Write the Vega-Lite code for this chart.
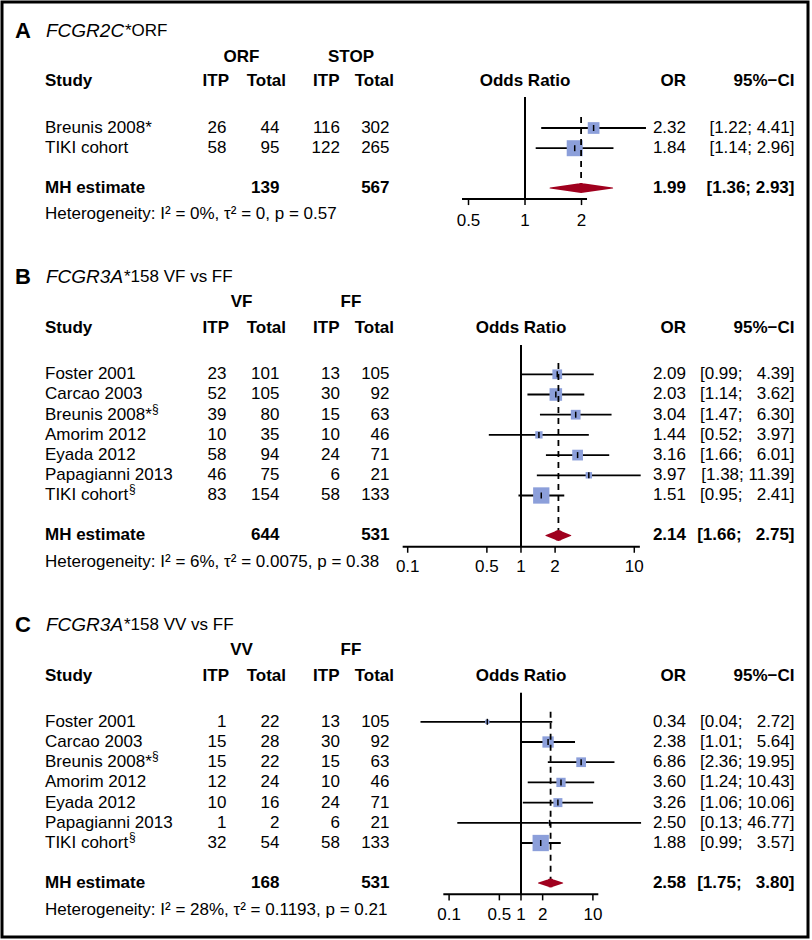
{
"$schema":"https://vega.github.io/schema/vega-lite/v6.json",
"width":806,"height":935,
"padding":{"left":2,"top":2,"right":4,"bottom":3},
"background":"white",
"config":{"view":{"stroke":"black","strokeWidth":3},"text":{"font":"Liberation Sans","fontSize":17,"color":"black"}},
"datasets":{
"panels":[
{"panel":"A","letter":"A","gene":"FCGR2C","suffix":"*ORF","g1":"ORF","g2":"STOP"},
{"panel":"B","letter":"B","gene":"FCGR3A","suffix":"*158 VF vs FF","g1":"VF","g2":"FF"},
{"panel":"C","letter":"C","gene":"FCGR3A","suffix":"*158 VV vs FF","g1":"VV","g2":"FF"}],
"studies":[
{"panel":"A","row":1,"study":"Breunis 2008*","itp1":26,"tot1":44,"itp2":116,"tot2":302,"or":2.32,"lo":1.22,"hi":4.41,"ci":"[1.22; 4.41]","weight":34.9},
{"panel":"A","row":2,"study":"TIKI cohort","itp1":58,"tot1":95,"itp2":122,"tot2":265,"or":1.84,"lo":1.14,"hi":2.96,"ci":"[1.14; 2.96]","weight":65.1},
{"panel":"B","row":1,"study":"Foster 2001","itp1":23,"tot1":101,"itp2":13,"tot2":105,"or":2.09,"lo":0.99,"hi":4.39,"ci":"[0.99; \u20074.39]","weight":11.5},
{"panel":"B","row":2,"study":"Carcao 2003","itp1":52,"tot1":105,"itp2":30,"tot2":92,"or":2.03,"lo":1.14,"hi":3.62,"ci":"[1.14; \u20073.62]","weight":19.2},
{"panel":"B","row":3,"study":"Breunis 2008*","itp1":39,"tot1":80,"itp2":15,"tot2":63,"or":3.04,"lo":1.47,"hi":6.30,"ci":"[1.47; \u20076.30]","weight":11.5},
{"panel":"B","row":4,"study":"Amorim 2012","itp1":10,"tot1":35,"itp2":10,"tot2":46,"or":1.44,"lo":0.52,"hi":3.97,"ci":"[0.52; \u20073.97]","weight":6.5},
{"panel":"B","row":5,"study":"Eyada 2012","itp1":58,"tot1":94,"itp2":24,"tot2":71,"or":3.16,"lo":1.66,"hi":6.01,"ci":"[1.66; \u20076.01]","weight":14},
{"panel":"B","row":6,"study":"Papagianni 2013","itp1":46,"tot1":75,"itp2":6,"tot2":21,"or":3.97,"lo":1.38,"hi":11.39,"ci":"[1.38; 11.39]","weight":5},
{"panel":"B","row":7,"study":"TIKI cohort","itp1":83,"tot1":154,"itp2":58,"tot2":133,"or":1.51,"lo":0.95,"hi":2.41,"ci":"[0.95; \u20072.41]","weight":32.3},
{"panel":"C","row":1,"study":"Foster 2001","itp1":1,"tot1":22,"itp2":13,"tot2":105,"or":0.34,"lo":0.04,"hi":2.72,"ci":"[0.04; \u20072.72]","weight":2.7},
{"panel":"C","row":2,"study":"Carcao 2003","itp1":15,"tot1":28,"itp2":30,"tot2":92,"or":2.38,"lo":1.01,"hi":5.64,"ci":"[1.01; \u20075.64]","weight":18.9},
{"panel":"C","row":3,"study":"Breunis 2008*","itp1":15,"tot1":22,"itp2":15,"tot2":63,"or":6.86,"lo":2.36,"hi":19.95,"ci":"[2.36; 19.95]","weight":13.9},
{"panel":"C","row":4,"study":"Amorim 2012","itp1":12,"tot1":24,"itp2":10,"tot2":46,"or":3.60,"lo":1.24,"hi":10.43,"ci":"[1.24; 10.43]","weight":12.7},
{"panel":"C","row":5,"study":"Eyada 2012","itp1":10,"tot1":16,"itp2":24,"tot2":71,"or":3.26,"lo":1.06,"hi":10.06,"ci":"[1.06; 10.06]","weight":12.0},
{"panel":"C","row":6,"study":"Papagianni 2013","itp1":1,"tot1":2,"itp2":6,"tot2":21,"or":2.50,"lo":0.13,"hi":46.77,"ci":"[0.13; 46.77]","weight":0.6},
{"panel":"C","row":7,"study":"TIKI cohort","itp1":32,"tot1":54,"itp2":58,"tot2":133,"or":1.88,"lo":0.99,"hi":3.57,"ci":"[0.99; \u20073.57]","weight":39.3}],
"summary":[
{"panel":"A","tot1":139,"tot2":567,"or":1.99,"lo":1.36,"hi":2.93,"ci":"[1.36; 2.93]","het":"Heterogeneity: I² = 0%, τ² = 0, p = 0.57"},
{"panel":"B","tot1":644,"tot2":531,"or":2.14,"lo":1.66,"hi":2.75,"ci":"[1.66; \u20072.75]","het":"Heterogeneity: I² = 6%, τ² = 0.0075, p = 0.38"},
{"panel":"C","tot1":168,"tot2":531,"or":2.58,"lo":1.75,"hi":3.80,"ci":"[1.75; \u20073.80]","het":"Heterogeneity: I² = 28%, τ² = 0.1193, p = 0.21"}],
"ticks":[
{"panel":"A","v":0.5,"label":"0.5"},{"panel":"A","v":1,"label":"1"},{"panel":"A","v":2,"label":"2"},
{"panel":"B","v":0.1,"label":"0.1"},{"panel":"B","v":0.5,"label":"0.5"},{"panel":"B","v":1,"label":"1"},{"panel":"B","v":2,"label":"2"},{"panel":"B","v":10,"label":"10"},
{"panel":"C","v":0.1,"label":"0.1"},{"panel":"C","v":0.5,"label":"0.5"},{"panel":"C","v":1,"label":"1"},{"panel":"C","v":2,"label":"2"},{"panel":"C","v":10,"label":"10"}]
},
"resolve":{"scale":{"x":"independent","y":"independent","size":"independent"}},
"layer":[
{"resolve":{"scale":{"x":"independent","size":"independent"}},"layer":[
{"data":{"name":"panels"},"transform":[{"filter":"datum.panel==='A'"}],"mark":{"type":"text","align":"left","baseline":"middle","fontWeight":"bold","fontSize":22},"encoding":{"x":{"datum":1.613,"type":"quantitative","scale":{"domain":[0,100],"nice":false,"zero":false},"axis":null},"y":{"datum":-3.8,"type":"quantitative","scale":{"domain":[-5.238,41.049],"reverse":true,"nice":false,"zero":false},"axis":null},"text":{"field":"letter"}}},
{"data":{"name":"panels"},"transform":[{"filter":"datum.panel==='A'"}],"mark":{"type":"text","align":"left","baseline":"middle","fontStyle":"italic","fontSize":19},"encoding":{"x":{"datum":5.459,"type":"quantitative","scale":{"domain":[0,100],"nice":false,"zero":false},"axis":null},"y":{"datum":-3.8,"type":"quantitative","scale":{"domain":[-5.238,41.049],"reverse":true,"nice":false,"zero":false},"axis":null},"text":{"field":"gene"}}},
{"data":{"name":"panels"},"transform":[{"filter":"datum.panel==='A'"}],"mark":{"type":"text","align":"left","baseline":"middle","dx":79,"fontSize":17},"encoding":{"x":{"datum":5.459,"type":"quantitative","scale":{"domain":[0,100],"nice":false,"zero":false},"axis":null},"y":{"datum":-3.8,"type":"quantitative","scale":{"domain":[-5.238,41.049],"reverse":true,"nice":false,"zero":false},"axis":null},"text":{"field":"suffix"}}},
{"data":{"name":"panels"},"transform":[{"filter":"datum.panel==='A'"}],"mark":{"type":"text","align":"center","baseline":"middle","fontWeight":"bold"},"encoding":{"x":{"datum":29.715,"type":"quantitative","scale":{"domain":[0,100],"nice":false,"zero":false},"axis":null},"y":{"datum":-2.515,"type":"quantitative","scale":{"domain":[-5.238,41.049],"reverse":true,"nice":false,"zero":false},"axis":null},"text":{"field":"g1"}}},
{"data":{"name":"panels"},"transform":[{"filter":"datum.panel==='A'"}],"mark":{"type":"text","align":"center","baseline":"middle","fontWeight":"bold"},"encoding":{"x":{"datum":43.3,"type":"quantitative","scale":{"domain":[0,100],"nice":false,"zero":false},"axis":null},"y":{"datum":-2.515,"type":"quantitative","scale":{"domain":[-5.238,41.049],"reverse":true,"nice":false,"zero":false},"axis":null},"text":{"field":"g2"}}},
{"data":{"name":"panels"},"transform":[{"filter":"datum.panel==='A'"}],"mark":{"type":"text","align":"left","baseline":"middle","fontWeight":"bold","text":"Study"},"encoding":{"x":{"datum":5.335,"type":"quantitative","scale":{"domain":[0,100],"nice":false,"zero":false},"axis":null},"y":{"datum":-1.327,"type":"quantitative","scale":{"domain":[-5.238,41.049],"reverse":true,"nice":false,"zero":false},"axis":null}}},
{"data":{"name":"panels"},"transform":[{"filter":"datum.panel==='A'"}],"mark":{"type":"text","align":"right","baseline":"middle","fontWeight":"bold","text":"ITP"},"encoding":{"x":{"datum":28.164,"type":"quantitative","scale":{"domain":[0,100],"nice":false,"zero":false},"axis":null},"y":{"datum":-1.327,"type":"quantitative","scale":{"domain":[-5.238,41.049],"reverse":true,"nice":false,"zero":false},"axis":null}}},
{"data":{"name":"panels"},"transform":[{"filter":"datum.panel==='A'"}],"mark":{"type":"text","align":"right","baseline":"middle","fontWeight":"bold","text":"Total"},"encoding":{"x":{"datum":35.236,"type":"quantitative","scale":{"domain":[0,100],"nice":false,"zero":false},"axis":null},"y":{"datum":-1.327,"type":"quantitative","scale":{"domain":[-5.238,41.049],"reverse":true,"nice":false,"zero":false},"axis":null}}},
{"data":{"name":"panels"},"transform":[{"filter":"datum.panel==='A'"}],"mark":{"type":"text","align":"right","baseline":"middle","fontWeight":"bold","text":"ITP"},"encoding":{"x":{"datum":41.873,"type":"quantitative","scale":{"domain":[0,100],"nice":false,"zero":false},"axis":null},"y":{"datum":-1.327,"type":"quantitative","scale":{"domain":[-5.238,41.049],"reverse":true,"nice":false,"zero":false},"axis":null}}},
{"data":{"name":"panels"},"transform":[{"filter":"datum.panel==='A'"}],"mark":{"type":"text","align":"right","baseline":"middle","fontWeight":"bold","text":"Total"},"encoding":{"x":{"datum":48.635,"type":"quantitative","scale":{"domain":[0,100],"nice":false,"zero":false},"axis":null},"y":{"datum":-1.327,"type":"quantitative","scale":{"domain":[-5.238,41.049],"reverse":true,"nice":false,"zero":false},"axis":null}}},
{"data":{"name":"panels"},"transform":[{"filter":"datum.panel==='A'"}],"mark":{"type":"text","align":"center","baseline":"middle","fontWeight":"bold","text":"Odds Ratio"},"encoding":{"x":{"datum":1,"type":"quantitative","scale":{"type":"log","domain":[0.001635,32.19],"nice":false},"axis":null},"y":{"datum":-1.327,"type":"quantitative","scale":{"domain":[-5.238,41.049],"reverse":true,"nice":false,"zero":false},"axis":null}}},
{"data":{"name":"panels"},"transform":[{"filter":"datum.panel==='A'"}],"mark":{"type":"text","align":"right","baseline":"middle","fontWeight":"bold","text":"OR"},"encoding":{"x":{"datum":84.864,"type":"quantitative","scale":{"domain":[0,100],"nice":false,"zero":false},"axis":null},"y":{"datum":-1.327,"type":"quantitative","scale":{"domain":[-5.238,41.049],"reverse":true,"nice":false,"zero":false},"axis":null}}},
{"data":{"name":"panels"},"transform":[{"filter":"datum.panel==='A'"}],"mark":{"type":"text","align":"right","baseline":"middle","fontWeight":"bold","text":"95%−CI"},"encoding":{"x":{"datum":98.325,"type":"quantitative","scale":{"domain":[0,100],"nice":false,"zero":false},"axis":null},"y":{"datum":-1.327,"type":"quantitative","scale":{"domain":[-5.238,41.049],"reverse":true,"nice":false,"zero":false},"axis":null}}},
{"data":{"name":"studies"},"transform":[{"filter":"datum.panel==='A'"}],"mark":{"type":"text","align":"left","baseline":"middle"},"encoding":{"x":{"datum":5.335,"type":"quantitative","scale":{"domain":[0,100],"nice":false,"zero":false},"axis":null},"y":{"field":"row","type":"quantitative","scale":{"domain":[-5.238,41.049],"reverse":true,"nice":false,"zero":false},"axis":null},"text":{"field":"study"}}},
{"data":{"name":"studies"},"transform":[{"filter":"datum.panel==='A'"}],"mark":{"type":"text","align":"right","baseline":"middle"},"encoding":{"x":{"datum":27.854,"type":"quantitative","scale":{"domain":[0,100],"nice":false,"zero":false},"axis":null},"y":{"field":"row","type":"quantitative","scale":{"domain":[-5.238,41.049],"reverse":true,"nice":false,"zero":false},"axis":null},"text":{"field":"itp1"}}},
{"data":{"name":"studies"},"transform":[{"filter":"datum.panel==='A'"}],"mark":{"type":"text","align":"right","baseline":"middle"},"encoding":{"x":{"datum":34.429,"type":"quantitative","scale":{"domain":[0,100],"nice":false,"zero":false},"axis":null},"y":{"field":"row","type":"quantitative","scale":{"domain":[-5.238,41.049],"reverse":true,"nice":false,"zero":false},"axis":null},"text":{"field":"tot1"}}},
{"data":{"name":"studies"},"transform":[{"filter":"datum.panel==='A'"}],"mark":{"type":"text","align":"right","baseline":"middle"},"encoding":{"x":{"datum":41.935,"type":"quantitative","scale":{"domain":[0,100],"nice":false,"zero":false},"axis":null},"y":{"field":"row","type":"quantitative","scale":{"domain":[-5.238,41.049],"reverse":true,"nice":false,"zero":false},"axis":null},"text":{"field":"itp2"}}},
{"data":{"name":"studies"},"transform":[{"filter":"datum.panel==='A'"}],"mark":{"type":"text","align":"right","baseline":"middle"},"encoding":{"x":{"datum":48.077,"type":"quantitative","scale":{"domain":[0,100],"nice":false,"zero":false},"axis":null},"y":{"field":"row","type":"quantitative","scale":{"domain":[-5.238,41.049],"reverse":true,"nice":false,"zero":false},"axis":null},"text":{"field":"tot2"}}},
{"data":{"name":"studies"},"transform":[{"filter":"datum.panel==='A'"}],"mark":{"type":"text","align":"right","baseline":"middle"},"encoding":{"x":{"datum":84.864,"type":"quantitative","scale":{"domain":[0,100],"nice":false,"zero":false},"axis":null},"y":{"field":"row","type":"quantitative","scale":{"domain":[-5.238,41.049],"reverse":true,"nice":false,"zero":false},"axis":null},"text":{"field":"or","format":".2f"}}},
{"data":{"name":"studies"},"transform":[{"filter":"datum.panel==='A'"}],"mark":{"type":"text","align":"right","baseline":"middle"},"encoding":{"x":{"datum":98.325,"type":"quantitative","scale":{"domain":[0,100],"nice":false,"zero":false},"axis":null},"y":{"field":"row","type":"quantitative","scale":{"domain":[-5.238,41.049],"reverse":true,"nice":false,"zero":false},"axis":null},"text":{"field":"ci"}}},
{"data":{"name":"summary"},"transform":[{"filter":"datum.panel==='A'"}],"mark":{"type":"text","align":"left","baseline":"middle","fontWeight":"bold","text":"MH estimate"},"encoding":{"x":{"datum":5.335,"type":"quantitative","scale":{"domain":[0,100],"nice":false,"zero":false},"axis":null},"y":{"datum":3.97,"type":"quantitative","scale":{"domain":[-5.238,41.049],"reverse":true,"nice":false,"zero":false},"axis":null}}},
{"data":{"name":"summary"},"transform":[{"filter":"datum.panel==='A'"}],"mark":{"type":"text","align":"right","baseline":"middle","fontWeight":"bold"},"encoding":{"x":{"datum":34.429,"type":"quantitative","scale":{"domain":[0,100],"nice":false,"zero":false},"axis":null},"y":{"datum":3.97,"type":"quantitative","scale":{"domain":[-5.238,41.049],"reverse":true,"nice":false,"zero":false},"axis":null},"text":{"field":"tot1"}}},
{"data":{"name":"summary"},"transform":[{"filter":"datum.panel==='A'"}],"mark":{"type":"text","align":"right","baseline":"middle","fontWeight":"bold"},"encoding":{"x":{"datum":48.077,"type":"quantitative","scale":{"domain":[0,100],"nice":false,"zero":false},"axis":null},"y":{"datum":3.97,"type":"quantitative","scale":{"domain":[-5.238,41.049],"reverse":true,"nice":false,"zero":false},"axis":null},"text":{"field":"tot2"}}},
{"data":{"name":"summary"},"transform":[{"filter":"datum.panel==='A'"}],"mark":{"type":"text","align":"right","baseline":"middle","fontWeight":"bold"},"encoding":{"x":{"datum":84.864,"type":"quantitative","scale":{"domain":[0,100],"nice":false,"zero":false},"axis":null},"y":{"datum":3.97,"type":"quantitative","scale":{"domain":[-5.238,41.049],"reverse":true,"nice":false,"zero":false},"axis":null},"text":{"field":"or","format":".2f"}}},
{"data":{"name":"summary"},"transform":[{"filter":"datum.panel==='A'"}],"mark":{"type":"text","align":"right","baseline":"middle","fontWeight":"bold"},"encoding":{"x":{"datum":98.325,"type":"quantitative","scale":{"domain":[0,100],"nice":false,"zero":false},"axis":null},"y":{"datum":3.97,"type":"quantitative","scale":{"domain":[-5.238,41.049],"reverse":true,"nice":false,"zero":false},"axis":null},"text":{"field":"ci"}}},
{"data":{"name":"summary"},"transform":[{"filter":"datum.panel==='A'"}],"mark":{"type":"text","align":"left","baseline":"middle"},"encoding":{"x":{"datum":5.335,"type":"quantitative","scale":{"domain":[0,100],"nice":false,"zero":false},"axis":null},"y":{"datum":5.257,"type":"quantitative","scale":{"domain":[-5.238,41.049],"reverse":true,"nice":false,"zero":false},"axis":null},"text":{"field":"het"}}},
{"data":{"name":"panels"},"transform":[{"filter":"datum.panel==='A'"}],"mark":{"type":"rule","color":"black","strokeWidth":2},"encoding":{"x":{"datum":1,"type":"quantitative","scale":{"type":"log","domain":[0.001635,32.19],"nice":false},"axis":null},"y":{"datum":-0.535,"type":"quantitative","scale":{"domain":[-5.238,41.049],"reverse":true,"nice":false,"zero":false},"axis":null},"y2":{"datum":4.515}}},
{"data":{"name":"studies"},"transform":[{"filter":"datum.panel==='A'"}],"mark":{"type":"rule","color":"black","strokeWidth":1.8},"encoding":{"x":{"field":"lo","type":"quantitative","scale":{"type":"log","domain":[0.001635,32.19],"nice":false},"axis":null},"x2":{"field":"hi"},"y":{"field":"row","type":"quantitative","scale":{"domain":[-5.238,41.049],"reverse":true,"nice":false,"zero":false},"axis":null}}},
{"data":{"name":"studies"},"transform":[{"filter":"datum.panel==='A'"}],"mark":{"type":"point","shape":"square","filled":true,"color":"#8C9FDA","opacity":1,"strokeWidth":0},"encoding":{"x":{"field":"or","type":"quantitative","scale":{"type":"log","domain":[0.001635,32.19],"nice":false},"axis":null},"y":{"field":"row","type":"quantitative","scale":{"domain":[-5.238,41.049],"reverse":true,"nice":false,"zero":false},"axis":null},"size":{"field":"weight","type":"quantitative","scale":{"domain":[0,100],"range":[0,393],"zero":true},"legend":null}}},
{"data":{"name":"summary"},"transform":[{"filter":"datum.panel==='A'"}],"mark":{"type":"rule","color":"black","strokeWidth":1.8,"strokeDash":[6,5]},"encoding":{"x":{"field":"or","type":"quantitative","scale":{"type":"log","domain":[0.001635,32.19],"nice":false},"axis":null},"y":{"datum":0.455,"type":"quantitative","scale":{"domain":[-5.238,41.049],"reverse":true,"nice":false,"zero":false},"axis":null},"y2":{"datum":3.97}}},
{"data":{"name":"studies"},"transform":[{"filter":"datum.panel==='A'"}],"mark":{"type":"tick","orient":"vertical","color":"black","size":6,"thickness":1.5,"opacity":1},"encoding":{"x":{"field":"or","type":"quantitative","scale":{"type":"log","domain":[0.001635,32.19],"nice":false},"axis":null},"y":{"field":"row","type":"quantitative","scale":{"domain":[-5.238,41.049],"reverse":true,"nice":false,"zero":false},"axis":null}}},
{"data":{"name":"summary"},"transform":[{"filter":"datum.panel==='A'"},{"fold":["lo","or","hi"],"as":["k","v"]}],"mark":{"type":"trail","color":"#A0001E","opacity":1},"encoding":{"x":{"field":"v","type":"quantitative","scale":{"type":"log","domain":[0.001635,32.19],"nice":false},"axis":null},"y":{"datum":3.97,"type":"quantitative","scale":{"domain":[-5.238,41.049],"reverse":true,"nice":false,"zero":false},"axis":null},"size":{"field":"k","type":"ordinal","scale":{"type":"ordinal","domain":["lo","or","hi"],"range":[0,10,0]},"legend":null}}},
{"data":{"name":"panels"},"transform":[{"filter":"datum.panel==='A'"}],"mark":{"type":"rule","color":"black","strokeWidth":2},"encoding":{"x":{"datum":0.4617,"type":"quantitative","scale":{"type":"log","domain":[0.001635,32.19],"nice":false},"axis":null},"x2":{"datum":2.14},"y":{"datum":4.515,"type":"quantitative","scale":{"domain":[-5.238,41.049],"reverse":true,"nice":false,"zero":false},"axis":null}}},
{"data":{"name":"ticks"},"transform":[{"filter":"datum.panel==='A'"}],"mark":{"type":"rule","color":"black","strokeWidth":1.5},"encoding":{"x":{"field":"v","type":"quantitative","scale":{"type":"log","domain":[0.001635,32.19],"nice":false},"axis":null},"y":{"datum":4.515,"type":"quantitative","scale":{"domain":[-5.238,41.049],"reverse":true,"nice":false,"zero":false},"axis":null},"y2":{"datum":4.815}}},
{"data":{"name":"ticks"},"transform":[{"filter":"datum.panel==='A'"}],"mark":{"type":"text","align":"center","baseline":"middle"},"encoding":{"x":{"field":"v","type":"quantitative","scale":{"type":"log","domain":[0.001635,32.19],"nice":false},"axis":null},"y":{"datum":5.604,"type":"quantitative","scale":{"domain":[-5.238,41.049],"reverse":true,"nice":false,"zero":false},"axis":null},"text":{"field":"label"}}}
]},
{"resolve":{"scale":{"x":"independent","size":"independent"}},"layer":[
{"data":{"name":"panels"},"transform":[{"filter":"datum.panel==='B'"}],"mark":{"type":"text","align":"left","baseline":"middle","fontWeight":"bold","fontSize":22},"encoding":{"x":{"datum":1.613,"type":"quantitative","scale":{"domain":[0,100],"nice":false,"zero":false},"axis":null},"y":{"datum":-3.817,"type":"quantitative","scale":{"domain":[-17.43,28.857],"reverse":true,"nice":false,"zero":false},"axis":null},"text":{"field":"letter"}}},
{"data":{"name":"panels"},"transform":[{"filter":"datum.panel==='B'"}],"mark":{"type":"text","align":"left","baseline":"middle","fontStyle":"italic","fontSize":19},"encoding":{"x":{"datum":5.459,"type":"quantitative","scale":{"domain":[0,100],"nice":false,"zero":false},"axis":null},"y":{"datum":-3.817,"type":"quantitative","scale":{"domain":[-17.43,28.857],"reverse":true,"nice":false,"zero":false},"axis":null},"text":{"field":"gene"}}},
{"data":{"name":"panels"},"transform":[{"filter":"datum.panel==='B'"}],"mark":{"type":"text","align":"left","baseline":"middle","dx":78,"fontSize":17},"encoding":{"x":{"datum":5.459,"type":"quantitative","scale":{"domain":[0,100],"nice":false,"zero":false},"axis":null},"y":{"datum":-3.817,"type":"quantitative","scale":{"domain":[-17.43,28.857],"reverse":true,"nice":false,"zero":false},"axis":null},"text":{"field":"suffix"}}},
{"data":{"name":"panels"},"transform":[{"filter":"datum.panel==='B'"}],"mark":{"type":"text","align":"center","baseline":"middle","fontWeight":"bold"},"encoding":{"x":{"datum":29.715,"type":"quantitative","scale":{"domain":[0,100],"nice":false,"zero":false},"axis":null},"y":{"datum":-2.579,"type":"quantitative","scale":{"domain":[-17.43,28.857],"reverse":true,"nice":false,"zero":false},"axis":null},"text":{"field":"g1"}}},
{"data":{"name":"panels"},"transform":[{"filter":"datum.panel==='B'"}],"mark":{"type":"text","align":"center","baseline":"middle","fontWeight":"bold"},"encoding":{"x":{"datum":43.3,"type":"quantitative","scale":{"domain":[0,100],"nice":false,"zero":false},"axis":null},"y":{"datum":-2.579,"type":"quantitative","scale":{"domain":[-17.43,28.857],"reverse":true,"nice":false,"zero":false},"axis":null},"text":{"field":"g2"}}},
{"data":{"name":"panels"},"transform":[{"filter":"datum.panel==='B'"}],"mark":{"type":"text","align":"left","baseline":"middle","fontWeight":"bold","text":"Study"},"encoding":{"x":{"datum":5.335,"type":"quantitative","scale":{"domain":[0,100],"nice":false,"zero":false},"axis":null},"y":{"datum":-1.292,"type":"quantitative","scale":{"domain":[-17.43,28.857],"reverse":true,"nice":false,"zero":false},"axis":null}}},
{"data":{"name":"panels"},"transform":[{"filter":"datum.panel==='B'"}],"mark":{"type":"text","align":"right","baseline":"middle","fontWeight":"bold","text":"ITP"},"encoding":{"x":{"datum":28.164,"type":"quantitative","scale":{"domain":[0,100],"nice":false,"zero":false},"axis":null},"y":{"datum":-1.292,"type":"quantitative","scale":{"domain":[-17.43,28.857],"reverse":true,"nice":false,"zero":false},"axis":null}}},
{"data":{"name":"panels"},"transform":[{"filter":"datum.panel==='B'"}],"mark":{"type":"text","align":"right","baseline":"middle","fontWeight":"bold","text":"Total"},"encoding":{"x":{"datum":35.236,"type":"quantitative","scale":{"domain":[0,100],"nice":false,"zero":false},"axis":null},"y":{"datum":-1.292,"type":"quantitative","scale":{"domain":[-17.43,28.857],"reverse":true,"nice":false,"zero":false},"axis":null}}},
{"data":{"name":"panels"},"transform":[{"filter":"datum.panel==='B'"}],"mark":{"type":"text","align":"right","baseline":"middle","fontWeight":"bold","text":"ITP"},"encoding":{"x":{"datum":41.873,"type":"quantitative","scale":{"domain":[0,100],"nice":false,"zero":false},"axis":null},"y":{"datum":-1.292,"type":"quantitative","scale":{"domain":[-17.43,28.857],"reverse":true,"nice":false,"zero":false},"axis":null}}},
{"data":{"name":"panels"},"transform":[{"filter":"datum.panel==='B'"}],"mark":{"type":"text","align":"right","baseline":"middle","fontWeight":"bold","text":"Total"},"encoding":{"x":{"datum":48.635,"type":"quantitative","scale":{"domain":[0,100],"nice":false,"zero":false},"axis":null},"y":{"datum":-1.292,"type":"quantitative","scale":{"domain":[-17.43,28.857],"reverse":true,"nice":false,"zero":false},"axis":null}}},
{"data":{"name":"panels"},"transform":[{"filter":"datum.panel==='B'"}],"mark":{"type":"text","align":"center","baseline":"middle","fontWeight":"bold","text":"Odds Ratio"},"encoding":{"x":{"datum":1,"type":"quantitative","scale":{"type":"log","domain":[0.00002626,341.4],"nice":false},"axis":null},"y":{"datum":-1.292,"type":"quantitative","scale":{"domain":[-17.43,28.857],"reverse":true,"nice":false,"zero":false},"axis":null}}},
{"data":{"name":"panels"},"transform":[{"filter":"datum.panel==='B'"}],"mark":{"type":"text","align":"right","baseline":"middle","fontWeight":"bold","text":"OR"},"encoding":{"x":{"datum":84.864,"type":"quantitative","scale":{"domain":[0,100],"nice":false,"zero":false},"axis":null},"y":{"datum":-1.292,"type":"quantitative","scale":{"domain":[-17.43,28.857],"reverse":true,"nice":false,"zero":false},"axis":null}}},
{"data":{"name":"panels"},"transform":[{"filter":"datum.panel==='B'"}],"mark":{"type":"text","align":"right","baseline":"middle","fontWeight":"bold","text":"95%−CI"},"encoding":{"x":{"datum":98.325,"type":"quantitative","scale":{"domain":[0,100],"nice":false,"zero":false},"axis":null},"y":{"datum":-1.292,"type":"quantitative","scale":{"domain":[-17.43,28.857],"reverse":true,"nice":false,"zero":false},"axis":null}}},
{"data":{"name":"studies"},"transform":[{"filter":"datum.panel==='B'"}],"mark":{"type":"text","align":"left","baseline":"middle"},"encoding":{"x":{"datum":5.335,"type":"quantitative","scale":{"domain":[0,100],"nice":false,"zero":false},"axis":null},"y":{"field":"row","type":"quantitative","scale":{"domain":[-17.43,28.857],"reverse":true,"nice":false,"zero":false},"axis":null},"text":{"field":"study"}}},
{"data":{"name":"studies"},"transform":[{"filter":"datum.panel==='B' && datum.study==='Breunis 2008*'"}],"mark":{"type":"text","align":"left","baseline":"middle","fontSize":12,"dx":107,"dy":-6,"text":"§"},"encoding":{"x":{"datum":5.335,"type":"quantitative","scale":{"domain":[0,100],"nice":false,"zero":false},"axis":null},"y":{"field":"row","type":"quantitative","scale":{"domain":[-17.43,28.857],"reverse":true,"nice":false,"zero":false},"axis":null}}},
{"data":{"name":"studies"},"transform":[{"filter":"datum.panel==='B' && datum.study==='TIKI cohort'"}],"mark":{"type":"text","align":"left","baseline":"middle","fontSize":12,"dx":84,"dy":-6,"text":"§"},"encoding":{"x":{"datum":5.335,"type":"quantitative","scale":{"domain":[0,100],"nice":false,"zero":false},"axis":null},"y":{"field":"row","type":"quantitative","scale":{"domain":[-17.43,28.857],"reverse":true,"nice":false,"zero":false},"axis":null}}},
{"data":{"name":"studies"},"transform":[{"filter":"datum.panel==='B'"}],"mark":{"type":"text","align":"right","baseline":"middle"},"encoding":{"x":{"datum":27.854,"type":"quantitative","scale":{"domain":[0,100],"nice":false,"zero":false},"axis":null},"y":{"field":"row","type":"quantitative","scale":{"domain":[-17.43,28.857],"reverse":true,"nice":false,"zero":false},"axis":null},"text":{"field":"itp1"}}},
{"data":{"name":"studies"},"transform":[{"filter":"datum.panel==='B'"}],"mark":{"type":"text","align":"right","baseline":"middle"},"encoding":{"x":{"datum":34.429,"type":"quantitative","scale":{"domain":[0,100],"nice":false,"zero":false},"axis":null},"y":{"field":"row","type":"quantitative","scale":{"domain":[-17.43,28.857],"reverse":true,"nice":false,"zero":false},"axis":null},"text":{"field":"tot1"}}},
{"data":{"name":"studies"},"transform":[{"filter":"datum.panel==='B'"}],"mark":{"type":"text","align":"right","baseline":"middle"},"encoding":{"x":{"datum":41.935,"type":"quantitative","scale":{"domain":[0,100],"nice":false,"zero":false},"axis":null},"y":{"field":"row","type":"quantitative","scale":{"domain":[-17.43,28.857],"reverse":true,"nice":false,"zero":false},"axis":null},"text":{"field":"itp2"}}},
{"data":{"name":"studies"},"transform":[{"filter":"datum.panel==='B'"}],"mark":{"type":"text","align":"right","baseline":"middle"},"encoding":{"x":{"datum":48.077,"type":"quantitative","scale":{"domain":[0,100],"nice":false,"zero":false},"axis":null},"y":{"field":"row","type":"quantitative","scale":{"domain":[-17.43,28.857],"reverse":true,"nice":false,"zero":false},"axis":null},"text":{"field":"tot2"}}},
{"data":{"name":"studies"},"transform":[{"filter":"datum.panel==='B'"}],"mark":{"type":"text","align":"right","baseline":"middle"},"encoding":{"x":{"datum":84.864,"type":"quantitative","scale":{"domain":[0,100],"nice":false,"zero":false},"axis":null},"y":{"field":"row","type":"quantitative","scale":{"domain":[-17.43,28.857],"reverse":true,"nice":false,"zero":false},"axis":null},"text":{"field":"or","format":".2f"}}},
{"data":{"name":"studies"},"transform":[{"filter":"datum.panel==='B'"}],"mark":{"type":"text","align":"right","baseline":"middle"},"encoding":{"x":{"datum":98.325,"type":"quantitative","scale":{"domain":[0,100],"nice":false,"zero":false},"axis":null},"y":{"field":"row","type":"quantitative","scale":{"domain":[-17.43,28.857],"reverse":true,"nice":false,"zero":false},"axis":null},"text":{"field":"ci"}}},
{"data":{"name":"summary"},"transform":[{"filter":"datum.panel==='B'"}],"mark":{"type":"text","align":"left","baseline":"middle","fontWeight":"bold","text":"MH estimate"},"encoding":{"x":{"datum":5.335,"type":"quantitative","scale":{"domain":[0,100],"nice":false,"zero":false},"axis":null},"y":{"datum":8.98,"type":"quantitative","scale":{"domain":[-17.43,28.857],"reverse":true,"nice":false,"zero":false},"axis":null}}},
{"data":{"name":"summary"},"transform":[{"filter":"datum.panel==='B'"}],"mark":{"type":"text","align":"right","baseline":"middle","fontWeight":"bold"},"encoding":{"x":{"datum":34.429,"type":"quantitative","scale":{"domain":[0,100],"nice":false,"zero":false},"axis":null},"y":{"datum":8.98,"type":"quantitative","scale":{"domain":[-17.43,28.857],"reverse":true,"nice":false,"zero":false},"axis":null},"text":{"field":"tot1"}}},
{"data":{"name":"summary"},"transform":[{"filter":"datum.panel==='B'"}],"mark":{"type":"text","align":"right","baseline":"middle","fontWeight":"bold"},"encoding":{"x":{"datum":48.077,"type":"quantitative","scale":{"domain":[0,100],"nice":false,"zero":false},"axis":null},"y":{"datum":8.98,"type":"quantitative","scale":{"domain":[-17.43,28.857],"reverse":true,"nice":false,"zero":false},"axis":null},"text":{"field":"tot2"}}},
{"data":{"name":"summary"},"transform":[{"filter":"datum.panel==='B'"}],"mark":{"type":"text","align":"right","baseline":"middle","fontWeight":"bold"},"encoding":{"x":{"datum":84.864,"type":"quantitative","scale":{"domain":[0,100],"nice":false,"zero":false},"axis":null},"y":{"datum":8.98,"type":"quantitative","scale":{"domain":[-17.43,28.857],"reverse":true,"nice":false,"zero":false},"axis":null},"text":{"field":"or","format":".2f"}}},
{"data":{"name":"summary"},"transform":[{"filter":"datum.panel==='B'"}],"mark":{"type":"text","align":"right","baseline":"middle","fontWeight":"bold"},"encoding":{"x":{"datum":98.325,"type":"quantitative","scale":{"domain":[0,100],"nice":false,"zero":false},"axis":null},"y":{"datum":8.98,"type":"quantitative","scale":{"domain":[-17.43,28.857],"reverse":true,"nice":false,"zero":false},"axis":null},"text":{"field":"ci"}}},
{"data":{"name":"summary"},"transform":[{"filter":"datum.panel==='B'"}],"mark":{"type":"text","align":"left","baseline":"middle"},"encoding":{"x":{"datum":5.335,"type":"quantitative","scale":{"domain":[0,100],"nice":false,"zero":false},"axis":null},"y":{"datum":10.29,"type":"quantitative","scale":{"domain":[-17.43,28.857],"reverse":true,"nice":false,"zero":false},"axis":null},"text":{"field":"het"}}},
{"data":{"name":"panels"},"transform":[{"filter":"datum.panel==='B'"}],"mark":{"type":"rule","color":"black","strokeWidth":2},"encoding":{"x":{"datum":1,"type":"quantitative","scale":{"type":"log","domain":[0.00002626,341.4],"nice":false},"axis":null},"y":{"datum":-0.45,"type":"quantitative","scale":{"domain":[-17.43,28.857],"reverse":true,"nice":false,"zero":false},"axis":null},"y2":{"datum":9.535}}},
{"data":{"name":"studies"},"transform":[{"filter":"datum.panel==='B'"}],"mark":{"type":"rule","color":"black","strokeWidth":1.8},"encoding":{"x":{"field":"lo","type":"quantitative","scale":{"type":"log","domain":[0.00002626,341.4],"nice":false},"axis":null},"x2":{"field":"hi"},"y":{"field":"row","type":"quantitative","scale":{"domain":[-17.43,28.857],"reverse":true,"nice":false,"zero":false},"axis":null}}},
{"data":{"name":"studies"},"transform":[{"filter":"datum.panel==='B'"}],"mark":{"type":"point","shape":"square","filled":true,"color":"#8C9FDA","opacity":1,"strokeWidth":0},"encoding":{"x":{"field":"or","type":"quantitative","scale":{"type":"log","domain":[0.00002626,341.4],"nice":false},"axis":null},"y":{"field":"row","type":"quantitative","scale":{"domain":[-17.43,28.857],"reverse":true,"nice":false,"zero":false},"axis":null},"size":{"field":"weight","type":"quantitative","scale":{"domain":[0,100],"range":[0,823],"zero":true},"legend":null}}},
{"data":{"name":"summary"},"transform":[{"filter":"datum.panel==='B'"}],"mark":{"type":"rule","color":"black","strokeWidth":1.8,"strokeDash":[6,5]},"encoding":{"x":{"field":"or","type":"quantitative","scale":{"type":"log","domain":[0.00002626,341.4],"nice":false},"axis":null},"y":{"datum":0.44,"type":"quantitative","scale":{"domain":[-17.43,28.857],"reverse":true,"nice":false,"zero":false},"axis":null},"y2":{"datum":8.98}}},
{"data":{"name":"studies"},"transform":[{"filter":"datum.panel==='B'"}],"mark":{"type":"tick","orient":"vertical","color":"black","size":6,"thickness":1.5,"opacity":1},"encoding":{"x":{"field":"or","type":"quantitative","scale":{"type":"log","domain":[0.00002626,341.4],"nice":false},"axis":null},"y":{"field":"row","type":"quantitative","scale":{"domain":[-17.43,28.857],"reverse":true,"nice":false,"zero":false},"axis":null}}},
{"data":{"name":"summary"},"transform":[{"filter":"datum.panel==='B'"},{"fold":["lo","or","hi"],"as":["k","v"]}],"mark":{"type":"trail","color":"#A0001E","opacity":1},"encoding":{"x":{"field":"v","type":"quantitative","scale":{"type":"log","domain":[0.00002626,341.4],"nice":false},"axis":null},"y":{"datum":8.98,"type":"quantitative","scale":{"domain":[-17.43,28.857],"reverse":true,"nice":false,"zero":false},"axis":null},"size":{"field":"k","type":"ordinal","scale":{"type":"ordinal","domain":["lo","or","hi"],"range":[0,11,0]},"legend":null}}},
{"data":{"name":"panels"},"transform":[{"filter":"datum.panel==='B'"}],"mark":{"type":"rule","color":"black","strokeWidth":2},"encoding":{"x":{"datum":0.0903,"type":"quantitative","scale":{"type":"log","domain":[0.00002626,341.4],"nice":false},"axis":null},"x2":{"datum":11.2},"y":{"datum":9.535,"type":"quantitative","scale":{"domain":[-17.43,28.857],"reverse":true,"nice":false,"zero":false},"axis":null}}},
{"data":{"name":"ticks"},"transform":[{"filter":"datum.panel==='B'"}],"mark":{"type":"rule","color":"black","strokeWidth":1.5},"encoding":{"x":{"field":"v","type":"quantitative","scale":{"type":"log","domain":[0.00002626,341.4],"nice":false},"axis":null},"y":{"datum":9.535,"type":"quantitative","scale":{"domain":[-17.43,28.857],"reverse":true,"nice":false,"zero":false},"axis":null},"y2":{"datum":9.835}}},
{"data":{"name":"ticks"},"transform":[{"filter":"datum.panel==='B'"}],"mark":{"type":"text","align":"center","baseline":"middle"},"encoding":{"x":{"field":"v","type":"quantitative","scale":{"type":"log","domain":[0.00002626,341.4],"nice":false},"axis":null},"y":{"datum":10.54,"type":"quantitative","scale":{"domain":[-17.43,28.857],"reverse":true,"nice":false,"zero":false},"axis":null},"text":{"field":"label"}}}
]},
{"resolve":{"scale":{"x":"independent","size":"independent"}},"layer":[
{"data":{"name":"panels"},"transform":[{"filter":"datum.panel==='C'"}],"mark":{"type":"text","align":"left","baseline":"middle","fontWeight":"bold","fontSize":22},"encoding":{"x":{"datum":1.613,"type":"quantitative","scale":{"domain":[0,100],"nice":false,"zero":false},"axis":null},"y":{"datum":-3.79,"type":"quantitative","scale":{"domain":[-34.634,11.653],"reverse":true,"nice":false,"zero":false},"axis":null},"text":{"field":"letter"}}},
{"data":{"name":"panels"},"transform":[{"filter":"datum.panel==='C'"}],"mark":{"type":"text","align":"left","baseline":"middle","fontStyle":"italic","fontSize":19},"encoding":{"x":{"datum":5.459,"type":"quantitative","scale":{"domain":[0,100],"nice":false,"zero":false},"axis":null},"y":{"datum":-3.79,"type":"quantitative","scale":{"domain":[-34.634,11.653],"reverse":true,"nice":false,"zero":false},"axis":null},"text":{"field":"gene"}}},
{"data":{"name":"panels"},"transform":[{"filter":"datum.panel==='C'"}],"mark":{"type":"text","align":"left","baseline":"middle","dx":78,"fontSize":17},"encoding":{"x":{"datum":5.459,"type":"quantitative","scale":{"domain":[0,100],"nice":false,"zero":false},"axis":null},"y":{"datum":-3.79,"type":"quantitative","scale":{"domain":[-34.634,11.653],"reverse":true,"nice":false,"zero":false},"axis":null},"text":{"field":"suffix"}}},
{"data":{"name":"panels"},"transform":[{"filter":"datum.panel==='C'"}],"mark":{"type":"text","align":"center","baseline":"middle","fontWeight":"bold"},"encoding":{"x":{"datum":29.715,"type":"quantitative","scale":{"domain":[0,100],"nice":false,"zero":false},"axis":null},"y":{"datum":-2.554,"type":"quantitative","scale":{"domain":[-34.634,11.653],"reverse":true,"nice":false,"zero":false},"axis":null},"text":{"field":"g1"}}},
{"data":{"name":"panels"},"transform":[{"filter":"datum.panel==='C'"}],"mark":{"type":"text","align":"center","baseline":"middle","fontWeight":"bold"},"encoding":{"x":{"datum":43.3,"type":"quantitative","scale":{"domain":[0,100],"nice":false,"zero":false},"axis":null},"y":{"datum":-2.554,"type":"quantitative","scale":{"domain":[-34.634,11.653],"reverse":true,"nice":false,"zero":false},"axis":null},"text":{"field":"g2"}}},
{"data":{"name":"panels"},"transform":[{"filter":"datum.panel==='C'"}],"mark":{"type":"text","align":"left","baseline":"middle","fontWeight":"bold","text":"Study"},"encoding":{"x":{"datum":5.335,"type":"quantitative","scale":{"domain":[0,100],"nice":false,"zero":false},"axis":null},"y":{"datum":-1.267,"type":"quantitative","scale":{"domain":[-34.634,11.653],"reverse":true,"nice":false,"zero":false},"axis":null}}},
{"data":{"name":"panels"},"transform":[{"filter":"datum.panel==='C'"}],"mark":{"type":"text","align":"right","baseline":"middle","fontWeight":"bold","text":"ITP"},"encoding":{"x":{"datum":28.164,"type":"quantitative","scale":{"domain":[0,100],"nice":false,"zero":false},"axis":null},"y":{"datum":-1.267,"type":"quantitative","scale":{"domain":[-34.634,11.653],"reverse":true,"nice":false,"zero":false},"axis":null}}},
{"data":{"name":"panels"},"transform":[{"filter":"datum.panel==='C'"}],"mark":{"type":"text","align":"right","baseline":"middle","fontWeight":"bold","text":"Total"},"encoding":{"x":{"datum":35.236,"type":"quantitative","scale":{"domain":[0,100],"nice":false,"zero":false},"axis":null},"y":{"datum":-1.267,"type":"quantitative","scale":{"domain":[-34.634,11.653],"reverse":true,"nice":false,"zero":false},"axis":null}}},
{"data":{"name":"panels"},"transform":[{"filter":"datum.panel==='C'"}],"mark":{"type":"text","align":"right","baseline":"middle","fontWeight":"bold","text":"ITP"},"encoding":{"x":{"datum":41.873,"type":"quantitative","scale":{"domain":[0,100],"nice":false,"zero":false},"axis":null},"y":{"datum":-1.267,"type":"quantitative","scale":{"domain":[-34.634,11.653],"reverse":true,"nice":false,"zero":false},"axis":null}}},
{"data":{"name":"panels"},"transform":[{"filter":"datum.panel==='C'"}],"mark":{"type":"text","align":"right","baseline":"middle","fontWeight":"bold","text":"Total"},"encoding":{"x":{"datum":48.635,"type":"quantitative","scale":{"domain":[0,100],"nice":false,"zero":false},"axis":null},"y":{"datum":-1.267,"type":"quantitative","scale":{"domain":[-34.634,11.653],"reverse":true,"nice":false,"zero":false},"axis":null}}},
{"data":{"name":"panels"},"transform":[{"filter":"datum.panel==='C'"}],"mark":{"type":"text","align":"center","baseline":"middle","fontWeight":"bold","text":"Odds Ratio"},"encoding":{"x":{"datum":1,"type":"quantitative","scale":{"type":"log","domain":[0.00000006047,9811],"nice":false},"axis":null},"y":{"datum":-1.267,"type":"quantitative","scale":{"domain":[-34.634,11.653],"reverse":true,"nice":false,"zero":false},"axis":null}}},
{"data":{"name":"panels"},"transform":[{"filter":"datum.panel==='C'"}],"mark":{"type":"text","align":"right","baseline":"middle","fontWeight":"bold","text":"OR"},"encoding":{"x":{"datum":84.864,"type":"quantitative","scale":{"domain":[0,100],"nice":false,"zero":false},"axis":null},"y":{"datum":-1.267,"type":"quantitative","scale":{"domain":[-34.634,11.653],"reverse":true,"nice":false,"zero":false},"axis":null}}},
{"data":{"name":"panels"},"transform":[{"filter":"datum.panel==='C'"}],"mark":{"type":"text","align":"right","baseline":"middle","fontWeight":"bold","text":"95%−CI"},"encoding":{"x":{"datum":98.325,"type":"quantitative","scale":{"domain":[0,100],"nice":false,"zero":false},"axis":null},"y":{"datum":-1.267,"type":"quantitative","scale":{"domain":[-34.634,11.653],"reverse":true,"nice":false,"zero":false},"axis":null}}},
{"data":{"name":"studies"},"transform":[{"filter":"datum.panel==='C'"}],"mark":{"type":"text","align":"left","baseline":"middle"},"encoding":{"x":{"datum":5.335,"type":"quantitative","scale":{"domain":[0,100],"nice":false,"zero":false},"axis":null},"y":{"field":"row","type":"quantitative","scale":{"domain":[-34.634,11.653],"reverse":true,"nice":false,"zero":false},"axis":null},"text":{"field":"study"}}},
{"data":{"name":"studies"},"transform":[{"filter":"datum.panel==='C' && datum.study==='Breunis 2008*'"}],"mark":{"type":"text","align":"left","baseline":"middle","fontSize":12,"dx":107,"dy":-6,"text":"§"},"encoding":{"x":{"datum":5.335,"type":"quantitative","scale":{"domain":[0,100],"nice":false,"zero":false},"axis":null},"y":{"field":"row","type":"quantitative","scale":{"domain":[-34.634,11.653],"reverse":true,"nice":false,"zero":false},"axis":null}}},
{"data":{"name":"studies"},"transform":[{"filter":"datum.panel==='C' && datum.study==='TIKI cohort'"}],"mark":{"type":"text","align":"left","baseline":"middle","fontSize":12,"dx":84,"dy":-6,"text":"§"},"encoding":{"x":{"datum":5.335,"type":"quantitative","scale":{"domain":[0,100],"nice":false,"zero":false},"axis":null},"y":{"field":"row","type":"quantitative","scale":{"domain":[-34.634,11.653],"reverse":true,"nice":false,"zero":false},"axis":null}}},
{"data":{"name":"studies"},"transform":[{"filter":"datum.panel==='C'"}],"mark":{"type":"text","align":"right","baseline":"middle"},"encoding":{"x":{"datum":27.854,"type":"quantitative","scale":{"domain":[0,100],"nice":false,"zero":false},"axis":null},"y":{"field":"row","type":"quantitative","scale":{"domain":[-34.634,11.653],"reverse":true,"nice":false,"zero":false},"axis":null},"text":{"field":"itp1"}}},
{"data":{"name":"studies"},"transform":[{"filter":"datum.panel==='C'"}],"mark":{"type":"text","align":"right","baseline":"middle"},"encoding":{"x":{"datum":34.429,"type":"quantitative","scale":{"domain":[0,100],"nice":false,"zero":false},"axis":null},"y":{"field":"row","type":"quantitative","scale":{"domain":[-34.634,11.653],"reverse":true,"nice":false,"zero":false},"axis":null},"text":{"field":"tot1"}}},
{"data":{"name":"studies"},"transform":[{"filter":"datum.panel==='C'"}],"mark":{"type":"text","align":"right","baseline":"middle"},"encoding":{"x":{"datum":41.935,"type":"quantitative","scale":{"domain":[0,100],"nice":false,"zero":false},"axis":null},"y":{"field":"row","type":"quantitative","scale":{"domain":[-34.634,11.653],"reverse":true,"nice":false,"zero":false},"axis":null},"text":{"field":"itp2"}}},
{"data":{"name":"studies"},"transform":[{"filter":"datum.panel==='C'"}],"mark":{"type":"text","align":"right","baseline":"middle"},"encoding":{"x":{"datum":48.077,"type":"quantitative","scale":{"domain":[0,100],"nice":false,"zero":false},"axis":null},"y":{"field":"row","type":"quantitative","scale":{"domain":[-34.634,11.653],"reverse":true,"nice":false,"zero":false},"axis":null},"text":{"field":"tot2"}}},
{"data":{"name":"studies"},"transform":[{"filter":"datum.panel==='C'"}],"mark":{"type":"text","align":"right","baseline":"middle"},"encoding":{"x":{"datum":84.864,"type":"quantitative","scale":{"domain":[0,100],"nice":false,"zero":false},"axis":null},"y":{"field":"row","type":"quantitative","scale":{"domain":[-34.634,11.653],"reverse":true,"nice":false,"zero":false},"axis":null},"text":{"field":"or","format":".2f"}}},
{"data":{"name":"studies"},"transform":[{"filter":"datum.panel==='C'"}],"mark":{"type":"text","align":"right","baseline":"middle"},"encoding":{"x":{"datum":98.325,"type":"quantitative","scale":{"domain":[0,100],"nice":false,"zero":false},"axis":null},"y":{"field":"row","type":"quantitative","scale":{"domain":[-34.634,11.653],"reverse":true,"nice":false,"zero":false},"axis":null},"text":{"field":"ci"}}},
{"data":{"name":"summary"},"transform":[{"filter":"datum.panel==='C'"}],"mark":{"type":"text","align":"left","baseline":"middle","fontWeight":"bold","text":"MH estimate"},"encoding":{"x":{"datum":5.335,"type":"quantitative","scale":{"domain":[0,100],"nice":false,"zero":false},"axis":null},"y":{"datum":8.98,"type":"quantitative","scale":{"domain":[-34.634,11.653],"reverse":true,"nice":false,"zero":false},"axis":null}}},
{"data":{"name":"summary"},"transform":[{"filter":"datum.panel==='C'"}],"mark":{"type":"text","align":"right","baseline":"middle","fontWeight":"bold"},"encoding":{"x":{"datum":34.429,"type":"quantitative","scale":{"domain":[0,100],"nice":false,"zero":false},"axis":null},"y":{"datum":8.98,"type":"quantitative","scale":{"domain":[-34.634,11.653],"reverse":true,"nice":false,"zero":false},"axis":null},"text":{"field":"tot1"}}},
{"data":{"name":"summary"},"transform":[{"filter":"datum.panel==='C'"}],"mark":{"type":"text","align":"right","baseline":"middle","fontWeight":"bold"},"encoding":{"x":{"datum":48.077,"type":"quantitative","scale":{"domain":[0,100],"nice":false,"zero":false},"axis":null},"y":{"datum":8.98,"type":"quantitative","scale":{"domain":[-34.634,11.653],"reverse":true,"nice":false,"zero":false},"axis":null},"text":{"field":"tot2"}}},
{"data":{"name":"summary"},"transform":[{"filter":"datum.panel==='C'"}],"mark":{"type":"text","align":"right","baseline":"middle","fontWeight":"bold"},"encoding":{"x":{"datum":84.864,"type":"quantitative","scale":{"domain":[0,100],"nice":false,"zero":false},"axis":null},"y":{"datum":8.98,"type":"quantitative","scale":{"domain":[-34.634,11.653],"reverse":true,"nice":false,"zero":false},"axis":null},"text":{"field":"or","format":".2f"}}},
{"data":{"name":"summary"},"transform":[{"filter":"datum.panel==='C'"}],"mark":{"type":"text","align":"right","baseline":"middle","fontWeight":"bold"},"encoding":{"x":{"datum":98.325,"type":"quantitative","scale":{"domain":[0,100],"nice":false,"zero":false},"axis":null},"y":{"datum":8.98,"type":"quantitative","scale":{"domain":[-34.634,11.653],"reverse":true,"nice":false,"zero":false},"axis":null},"text":{"field":"ci"}}},
{"data":{"name":"summary"},"transform":[{"filter":"datum.panel==='C'"}],"mark":{"type":"text","align":"left","baseline":"middle"},"encoding":{"x":{"datum":5.335,"type":"quantitative","scale":{"domain":[0,100],"nice":false,"zero":false},"axis":null},"y":{"datum":10.317,"type":"quantitative","scale":{"domain":[-34.634,11.653],"reverse":true,"nice":false,"zero":false},"axis":null},"text":{"field":"het"}}},
{"data":{"name":"panels"},"transform":[{"filter":"datum.panel==='C'"}],"mark":{"type":"rule","color":"black","strokeWidth":2},"encoding":{"x":{"datum":1,"type":"quantitative","scale":{"type":"log","domain":[0.00000006047,9811],"nice":false},"axis":null},"y":{"datum":-0.44,"type":"quantitative","scale":{"domain":[-34.634,11.653],"reverse":true,"nice":false,"zero":false},"axis":null},"y2":{"datum":9.54}}},
{"data":{"name":"studies"},"transform":[{"filter":"datum.panel==='C'"}],"mark":{"type":"rule","color":"black","strokeWidth":1.8},"encoding":{"x":{"field":"lo","type":"quantitative","scale":{"type":"log","domain":[0.00000006047,9811],"nice":false},"axis":null},"x2":{"field":"hi"},"y":{"field":"row","type":"quantitative","scale":{"domain":[-34.634,11.653],"reverse":true,"nice":false,"zero":false},"axis":null}}},
{"data":{"name":"studies"},"transform":[{"filter":"datum.panel==='C'"}],"mark":{"type":"point","shape":"square","filled":true,"color":"#8C9FDA","opacity":1,"strokeWidth":0},"encoding":{"x":{"field":"or","type":"quantitative","scale":{"type":"log","domain":[0.00000006047,9811],"nice":false},"axis":null},"y":{"field":"row","type":"quantitative","scale":{"domain":[-34.634,11.653],"reverse":true,"nice":false,"zero":false},"axis":null},"size":{"field":"weight","type":"quantitative","scale":{"domain":[0,100],"range":[0,677],"zero":true},"legend":null}}},
{"data":{"name":"summary"},"transform":[{"filter":"datum.panel==='C'"}],"mark":{"type":"rule","color":"black","strokeWidth":1.8,"strokeDash":[6,5]},"encoding":{"x":{"field":"or","type":"quantitative","scale":{"type":"log","domain":[0.00000006047,9811],"nice":false},"axis":null},"y":{"datum":0.5,"type":"quantitative","scale":{"domain":[-34.634,11.653],"reverse":true,"nice":false,"zero":false},"axis":null},"y2":{"datum":8.98}}},
{"data":{"name":"studies"},"transform":[{"filter":"datum.panel==='C'"}],"mark":{"type":"tick","orient":"vertical","color":"black","size":6,"thickness":1.5,"opacity":1},"encoding":{"x":{"field":"or","type":"quantitative","scale":{"type":"log","domain":[0.00000006047,9811],"nice":false},"axis":null},"y":{"field":"row","type":"quantitative","scale":{"domain":[-34.634,11.653],"reverse":true,"nice":false,"zero":false},"axis":null}}},
{"data":{"name":"summary"},"transform":[{"filter":"datum.panel==='C'"},{"fold":["lo","or","hi"],"as":["k","v"]}],"mark":{"type":"trail","color":"#A0001E","opacity":1},"encoding":{"x":{"field":"v","type":"quantitative","scale":{"type":"log","domain":[0.00000006047,9811],"nice":false},"axis":null},"y":{"datum":8.98,"type":"quantitative","scale":{"domain":[-34.634,11.653],"reverse":true,"nice":false,"zero":false},"axis":null},"size":{"field":"k","type":"ordinal","scale":{"type":"ordinal","domain":["lo","or","hi"],"range":[0,9,0]},"legend":null}}},
{"data":{"name":"panels"},"transform":[{"filter":"datum.panel==='C'"}],"mark":{"type":"rule","color":"black","strokeWidth":2},"encoding":{"x":{"datum":0.0831,"type":"quantitative","scale":{"type":"log","domain":[0.00000006047,9811],"nice":false},"axis":null},"x2":{"datum":11.89},"y":{"datum":9.54,"type":"quantitative","scale":{"domain":[-34.634,11.653],"reverse":true,"nice":false,"zero":false},"axis":null}}},
{"data":{"name":"ticks"},"transform":[{"filter":"datum.panel==='C'"}],"mark":{"type":"rule","color":"black","strokeWidth":1.5},"encoding":{"x":{"field":"v","type":"quantitative","scale":{"type":"log","domain":[0.00000006047,9811],"nice":false},"axis":null},"y":{"datum":9.54,"type":"quantitative","scale":{"domain":[-34.634,11.653],"reverse":true,"nice":false,"zero":false},"axis":null},"y2":{"datum":9.84}}},
{"data":{"name":"ticks"},"transform":[{"filter":"datum.panel==='C'"}],"mark":{"type":"text","align":"center","baseline":"middle"},"encoding":{"x":{"field":"v","type":"quantitative","scale":{"type":"log","domain":[0.00000006047,9811],"nice":false},"axis":null},"y":{"datum":10.564,"type":"quantitative","scale":{"domain":[-34.634,11.653],"reverse":true,"nice":false,"zero":false},"axis":null},"text":{"field":"label"}}}
]}
]
}
